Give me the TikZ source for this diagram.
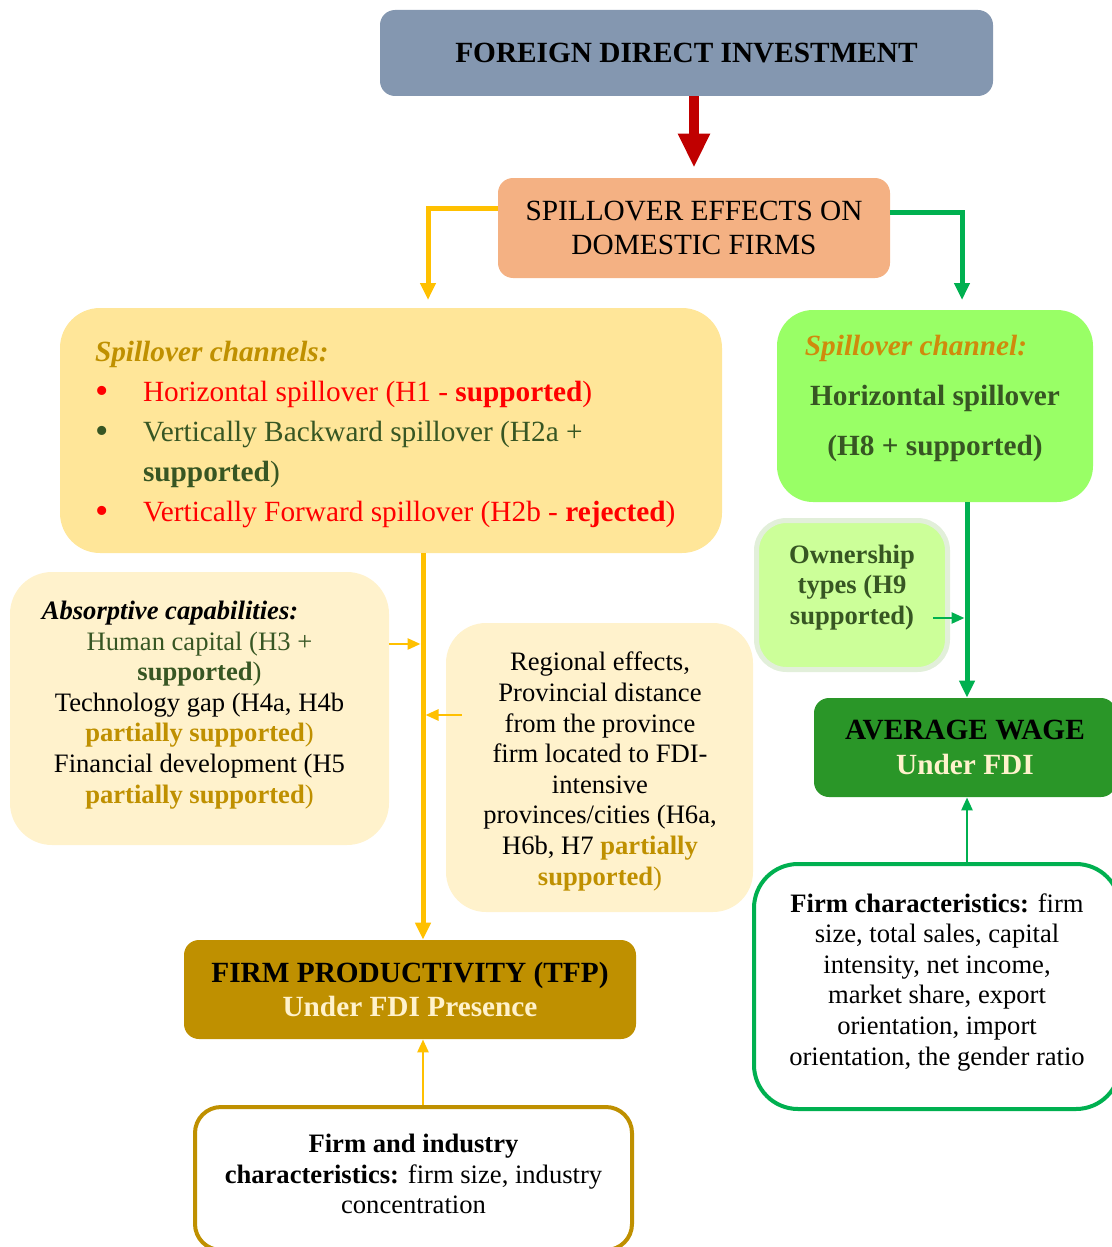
\documentclass[tikz,border=0pt]{standalone}
\usepackage{fontspec}
\setmainfont{Liberation Serif}
\usetikzlibrary{arrows.meta}
\definecolor{fdiblue}{HTML}{8497B0}
\definecolor{spillorange}{HTML}{F4B183}
\definecolor{chanyellow}{HTML}{FFE699}
\definecolor{cream}{HTML}{FFF2CC}
\definecolor{grnbox}{HTML}{99FF66}
\definecolor{ownfill}{HTML}{CCFF99}
\definecolor{ownline}{HTML}{E2EFDA}
\definecolor{wagegreen}{HTML}{2A9628}
\definecolor{gold}{HTML}{BF9000}
\definecolor{arrylw}{HTML}{FFC000}
\definecolor{arrgreen}{HTML}{00B050}
\definecolor{darkred}{HTML}{C00000}
\definecolor{dkgreen}{HTML}{375623}
\definecolor{orangett}{HTML}{CF8A0C}
\newcommand{\bigsz}[1][17pt]{\fontsize{14.65pt}{#1}\selectfont}
\newcommand{\smallsz}{\fontsize{13.3pt}{15.3pt}\selectfont}
\newcommand{\blt}{\makebox[24pt][l]{\raisebox{-1pt}{\fontsize{19pt}{19pt}\selectfont\textbullet}}}

\begin{document}
\begin{tikzpicture}[x=0.5pt, y=-0.5pt,
    box/.style={rounded corners=#1, inner sep=0pt, align=center},
    txt/.style={inner sep=0pt, align=center},
    fat/.style={draw=darkred, line width=5pt, -{Triangle[width=15pt,length=17pt]}},
    ylw/.style={draw=arrylw, line width=2.5pt, -{Triangle[width=7.5pt,length=8.5pt]}},
    grnarr/.style={draw=arrgreen, line width=2.5pt, -{Triangle[width=7.5pt,length=8.5pt]}},
    ylwthin/.style={draw=arrylw, line width=1.3pt, -{Triangle[width=5.5pt,length=6.5pt]}},
    grnthin/.style={draw=arrgreen, line width=1.3pt, -{Triangle[width=5.5pt,length=6.5pt]}}]
  \useasboundingbox (0,0) rectangle (1112,1247);
  \clip (0,0) rectangle (1112,1247);

  \node[box=7.5pt, fill=fdiblue, minimum width=306.5pt, minimum height=43pt, font={\bigsz\bfseries}] (fdi) at (686.5,53) {FOREIGN DIRECT INVESTMENT};
  \node[box=7.5pt, fill=spillorange, minimum width=196pt, minimum height=50pt, font=\bigsz] (spill) at (694,228) {SPILLOVER EFFECTS ON\\DOMESTIC FIRMS};

  \node[box=20pt, fill=chanyellow, minimum width=331pt, minimum height=122.5pt] (chan) at (391,430.5) {};
  \node[txt, align=left, anchor=west, font={\bigsz[20pt]}] (chantxt) at ([xshift=17.5pt,yshift=-2pt]chan.west)
    {\textcolor{gold}{\textbf{\textit{Spillover channels:}}}\\
     \textcolor{red}{\blt Horizontal spillover (H1 - \textbf{supported})}\\
     \textcolor{dkgreen}{\blt Vertically Backward spillover (H2a +}\\
     \textcolor{dkgreen}{\hspace*{24pt}\textbf{supported})}\\
     \textcolor{red}{\blt Vertically Forward spillover (H2b - \textbf{rejected})}};

  \node[box=18pt, fill=grnbox, minimum width=158pt, minimum height=96pt] (grn) at (935,406) {};
  \node[txt, font={\bigsz[25pt]}] (grntxt) at (935,398)
    {\textcolor{orangett}{\textbf{\textit{Spillover channel:}}}\hspace*{19pt}\\
     \textcolor{dkgreen}{\textbf{Horizontal spillover}}\\
     \textcolor{dkgreen}{\textbf{(H8 + supported)}}};

  \node[box=21pt, fill=cream, minimum width=189.5pt, minimum height=136.5pt] (abs) at (199.5,708.5) {};
  \node[txt, font=\smallsz] (abstxt) at (199.5,705)
    {\textbf{\textit{Absorptive capabilities:}}\hspace*{29.5pt}\\
     \textcolor{dkgreen}{Human capital (H3 +}\\
     \textcolor{dkgreen}{\textbf{supported})}\\
     Technology gap (H4a, H4b\\
     \textcolor{gold}{\textbf{partially supported})}\\
     Financial development (H5\\
     \textcolor{gold}{\textbf{partially supported})}};

  \node[box=20pt, fill=cream, minimum width=153.5pt, minimum height=144.5pt] (reg) at (599.5,767.5) {};
  \node[txt, font=\smallsz] (regtxt) at (600,771.5)
    {Regional effects,\\Provincial distance\\from the province\\firm located to FDI-\\intensive\\provinces/cities (H6a,\\
     H6b, H7 \textcolor{gold}{\textbf{partially}}\\\textcolor{gold}{\textbf{supported})}};

  \node[box=15pt, fill=ownfill, draw=ownline, line width=2.5pt, minimum width=95.5pt, minimum height=74.5pt] (own) at (852,595) {};
  \node[txt, font={\smallsz\bfseries}, text=dkgreen] (owntxt) at (852,587.5) {Ownership\\types (H9\\supported)};

  \node[box=7.5pt, fill=wagegreen, minimum width=151pt, minimum height=49.5pt, font={\bigsz[17.5pt]\bfseries}] (wage) at (965,747.5) {AVERAGE WAGE\\\textcolor{cream}{Under FDI}};

  \node[box=22pt, draw=arrgreen, line width=2pt, fill=white, minimum width=183pt, minimum height=122.5pt] (fc) at (937,986.5) {};
  \node[txt, font=\smallsz] (fctxt) at (937,982)
    {\textbf{Firm characteristics:} firm\\size, total sales, capital\\intensity, net income,\\market share, export\\orientation, import\\orientation, the gender ratio};

  \node[box=7.5pt, fill=gold, minimum width=226pt, minimum height=49.5pt, font={\bigsz\bfseries}] (prod) at (410,989.5) {FIRM PRODUCTIVITY (TFP)\\\textcolor{cream}{Under FDI Presence}};

  \node[box=13pt, draw=gold, line width=2pt, fill=white, minimum width=218.5pt, minimum height=71.5pt] (fi) at (413.5,1178.5) {};
  \node[txt, font=\smallsz] (fitxt) at (413.5,1174)
    {\textbf{Firm and industry}\\\textbf{characteristics:} firm size, industry\\concentration};

  \coordinate (spine) at (423,0);
  \coordinate (gspine) at (967,0);
  \coordinate (yend) at (428,300);
  \coordinate (gend) at (962,300);

  \draw[fat] (spill.north |- fdi.south) -- ([yshift=5pt]spill.north);
  \draw[ylw] ([yshift=10pt]spill.west) -| (yend);
  \draw[grnarr] ([yshift=8pt]spill.east) -| (gend);
  \draw[ylw] (chan.south -| spine) -- (prod.north -| spine);
  \draw[ylwthin, shorten >=1.25pt] ([yshift=32.25pt]abs.east) -- ([yshift=32.25pt]abs.east -| spine);
  \draw[ylwthin, shorten >=1.25pt] ([xshift=8pt,yshift=26.25pt]reg.west) -- ([yshift=26.25pt]reg.west -| spine);
  \draw[ylwthin] (fi.north -| spine) -- (prod.south -| spine);
  \draw[grnarr] (grn.south -| gspine) -- (wage.north -| gspine);
  \draw[grnthin, shorten >=1.25pt] ([xshift=-8.5pt,yshift=-11.5pt]own.east) -- ([yshift=-11.5pt]own.east -| gspine);
  \draw[grnthin] (fc.north -| gspine) -- (wage.south -| gspine);
\end{tikzpicture}
\end{document}
